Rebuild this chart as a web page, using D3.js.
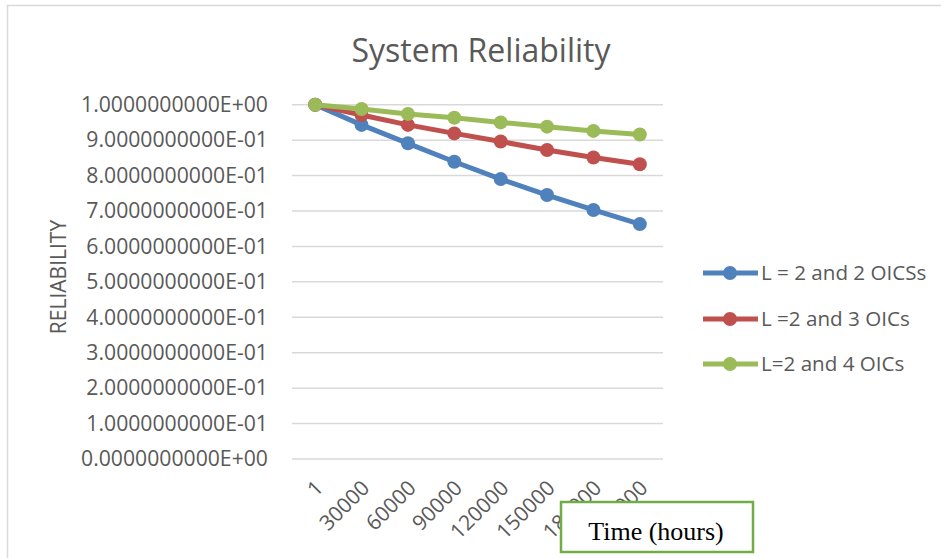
<!DOCTYPE html>
<html>
<head>
<meta charset="utf-8">
<script src="https://cdn.jsdelivr.net/npm/d3@7"></script>
<style>
  body { margin: 0; background: #fff; }
  svg { display: block; font-family: "Open Sans", sans-serif; }
</style>
</head>
<body>
<div id="chart"></div>
<script>
// data
var hours = ["1", "30000", "60000", "90000", "120000", "150000", "180000", "210000"];
var seriesNames = ["L = 2 and 2 OICSs", "L =2 and 3 OICs", "L=2 and 4 OICs"];
var rel2 = [1.0, 0.943, 0.891, 0.839, 0.790, 0.745, 0.703, 0.663];
var rel3 = [1.0, 0.971, 0.943, 0.919, 0.896, 0.872, 0.851, 0.832];
var rel4 = [1.0, 0.988, 0.974, 0.963, 0.950, 0.938, 0.926, 0.916];
var yTicks = [0, 0.1, 0.2, 0.3, 0.4, 0.5, 0.6, 0.7, 0.8, 0.9, 1.0];
var colors = ["#4F81BD", "#C0504D", "#9BBB59"];

var series = [rel2, rel3, rel4];

var width = 941, height = 558;
var plot = {left: 292, right: 663, top: 104.7, bottom: 459};

var svg = d3.select("#chart").append("svg")
    .attr("width", width).attr("height", height);

svg.append("rect").attr("width", width).attr("height", height).attr("fill", "#fff");

// outer chart frame (only top and left edges show)
svg.append("path")
    .attr("d", "M7.5," + height + "V5.5H" + width)
    .attr("fill", "none").attr("stroke", "#D9D9D9").attr("stroke-width", 1.5);

var x = d3.scaleBand().domain(hours).range([plot.left, plot.right]);
var y = d3.scaleLinear().domain([0, 1]).range([plot.bottom, plot.top]);

// gridlines
svg.append("g").selectAll("line")
    .data(yTicks).enter().append("line")
    .attr("x1", plot.left).attr("x2", plot.right)
    .attr("y1", d => y(d)).attr("y2", d => y(d))
    .attr("stroke", "#D9D9D9").attr("stroke-width", 1.5);

// y axis labels
var yAxis = d3.axisLeft(y).tickValues(yTicks).tickSize(0).tickPadding(0)
    .tickFormat(function(d) {
        var s = d.toExponential(10).toUpperCase();
        return s.replace(/E([+-])(\d)$/, "E$10$2");
    });
var yg = svg.append("g").attr("transform", "translate(268,0)").call(yAxis);
yg.select(".domain").remove();
yg.selectAll("text").attr("fill", "#595959").attr("font-size", 21.2)
    .attr("font-family", "Open Sans, sans-serif");

// x axis labels
var xAxis = d3.axisBottom(x).tickSize(0).tickPadding(0);
var xg = svg.append("g").attr("transform", "translate(0," + plot.bottom + ")").call(xAxis);
xg.select(".domain").remove();
xg.selectAll("text")
    .attr("fill", "#595959").attr("font-size", 21)
    .attr("font-family", "Open Sans, sans-serif")
    .attr("text-anchor", "end")
    .attr("y", 0).attr("dy", "0.35em")
    .attr("transform", "translate(4,25) rotate(-45)");

// lines and markers
var line = d3.line()
    .x((d, i) => x(hours[i]) + x.bandwidth() / 2)
    .y(d => y(d));

series.forEach(function(vals, k) {
    var g = svg.append("g");
    g.append("path").datum(vals)
        .attr("d", line)
        .attr("fill", "none")
        .attr("stroke", colors[k]).attr("stroke-width", 5)
        .attr("stroke-linejoin", "round");
    g.selectAll("circle").data(vals).enter().append("circle")
        .attr("cx", (d, i) => x(hours[i]) + x.bandwidth() / 2)
        .attr("cy", d => y(d))
        .attr("r", 7)
        .attr("fill", colors[k]);
});

// title
svg.append("text")
    .attr("x", 481).attr("y", 62)
    .attr("text-anchor", "middle")
    .attr("fill", "#595959").attr("font-size", 32)
    .text("System Reliability");

// y axis title
svg.append("text")
    .attr("transform", "translate(66,277) rotate(-90)")
    .attr("text-anchor", "middle")
    .attr("fill", "#595959").attr("font-size", 21)
    .text("RELIABILITY");

// legend
var legendY = [273, 319, 364];
var lg = svg.append("g").selectAll("g")
    .data(seriesNames).enter().append("g")
    .attr("transform", (d, i) => "translate(0," + legendY[i] + ")");
lg.append("line")
    .attr("x1", 703).attr("x2", 758)
    .attr("stroke", (d, i) => colors[i]).attr("stroke-width", 5);
lg.append("circle")
    .attr("cx", 730).attr("r", 7)
    .attr("fill", (d, i) => colors[i]);
lg.append("text")
    .attr("x", 761).attr("dy", "0.35em")
    .attr("fill", "#595959").attr("font-size", 20.6)
    .text(d => d);

// "Time (hours)" text box
svg.append("rect")
    .attr("x", 561).attr("y", 502)
    .attr("width", 192).attr("height", 50)
    .attr("fill", "#fff")
    .attr("stroke", "#70AD47").attr("stroke-width", 2.5);
svg.append("text")
    .attr("x", 656).attr("y", 540)
    .attr("text-anchor", "middle")
    .attr("font-family", "Liberation Serif, serif")
    .attr("font-size", 26)
    .attr("fill", "#000")
    .text("Time (hours)");
</script>
</body>
</html>
